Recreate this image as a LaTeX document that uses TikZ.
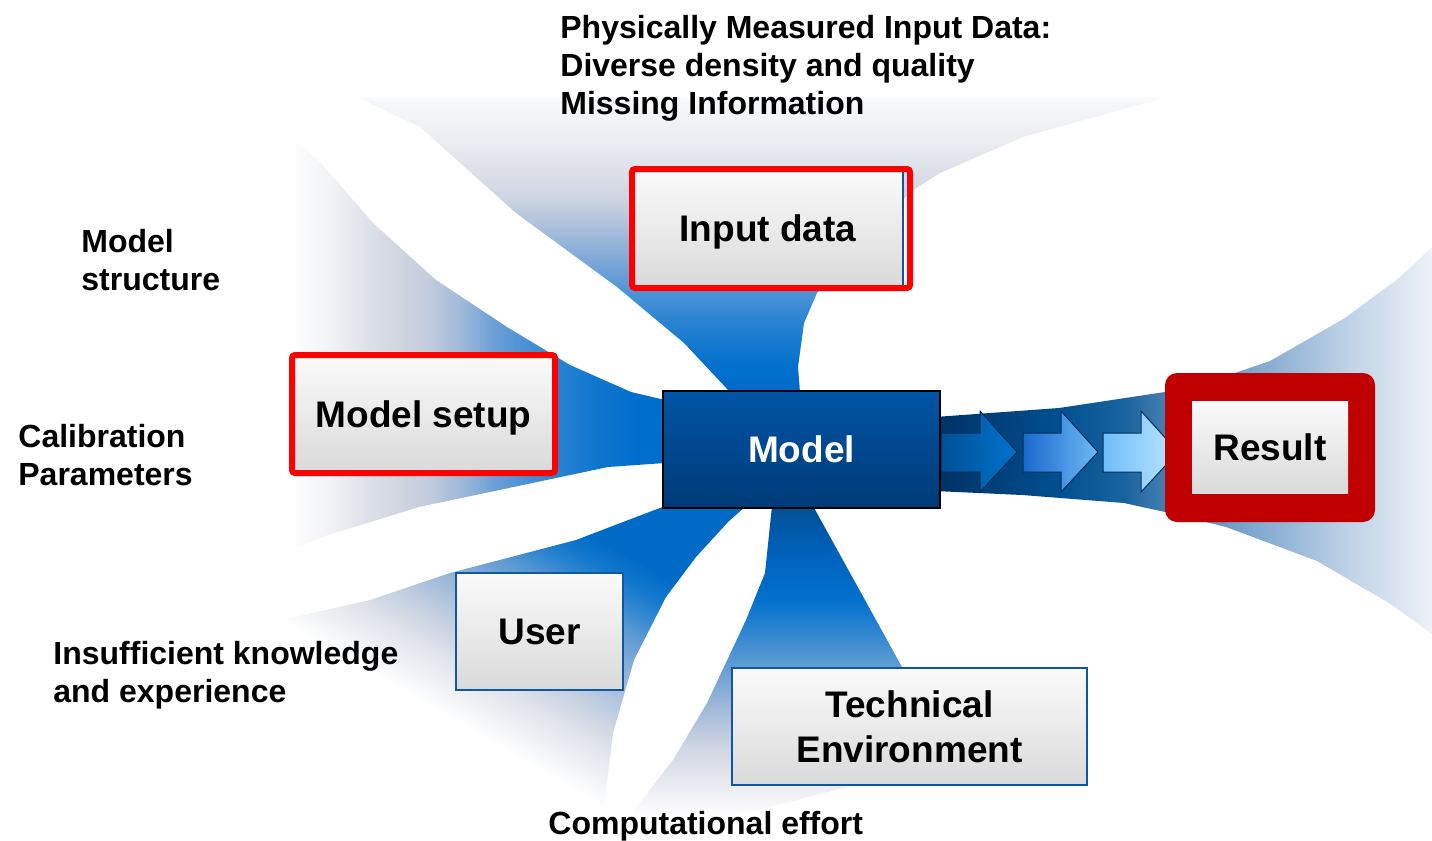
\documentclass[tikz,border=0pt]{standalone}
\usepackage{fontspec}
\setmainfont{Liberation Sans}

\definecolor{boxline}{RGB}{20,85,160}
\definecolor{boxtop}{RGB}{250,250,250}
\definecolor{boxbot}{RGB}{218,218,218}
\definecolor{framered}{RGB}{255,0,0}
\definecolor{resultred}{RGB}{192,0,0}
\definecolor{modeltop}{RGB}{0,85,165}
\definecolor{modelbot}{RGB}{0,58,120}
\definecolor{arrowline}{RGB}{0,45,95}
\definecolor{arrowAl}{RGB}{0,80,150}
\definecolor{arrowAr}{RGB}{0,115,205}
\definecolor{arrowBl}{RGB}{25,105,205}
\definecolor{arrowBr}{RGB}{110,185,245}
\definecolor{arrowCl}{RGB}{110,190,250}
\definecolor{arrowCr}{RGB}{190,228,255}

% fans fading out from the model
\pgfdeclareverticalshading{fanA}{100bp}{rgb(0bp)=(0,.412,.784); rgb(25bp)=(0,.412,.784);
  rgb(29.2bp)=(0,.439,.804); rgb(36.7bp)=(.157,.51,.824); rgb(42.3bp)=(.314,.588,.843);
  rgb(47.9bp)=(.51,.667,.843); rgb(53.6bp)=(.686,.765,.863); rgb(57.5bp)=(.804,.831,.882);
  rgb(62.1bp)=(.863,.875,.91); rgb(67.7bp)=(.922,.929,.949); rgb(74bp)=(.965,.969,.976);
  rgb(75.5bp)=(1,1,1); rgb(100bp)=(1,1,1)}
\pgfdeclarehorizontalshading{fanB}{100bp}{rgb(0bp)=(1,1,1); rgb(34.7bp)=(1,1,1);
  rgb(39bp)=(.949,.953,.965); rgb(42.2bp)=(.882,.894,.922); rgb(45.8bp)=(.824,.843,.886);
  rgb(49.4bp)=(.765,.804,.871); rgb(53bp)=(.627,.725,.843); rgb(56.5bp)=(.431,.627,.843);
  rgb(60.2bp)=(.275,.569,.831); rgb(63.7bp)=(.157,.51,.824); rgb(67.3bp)=(.059,.463,.812);
  rgb(72.3bp)=(0,.431,.804); rgb(100bp)=(0,.431,.804)}
\pgfdeclarehorizontalshading{fanC}{100bp}{rgb(0bp)=(1,1,1); rgb(41bp)=(1,1,1);
  rgb(44.5bp)=(.933,.941,.957); rgb(46bp)=(.91,.918,.941); rgb(47.6bp)=(.882,.894,.922);
  rgb(49.1bp)=(.843,.863,.902); rgb(52bp)=(.765,.812,.882); rgb(55.4bp)=(.647,.745,.863);
  rgb(57.1bp)=(.588,.706,.843); rgb(62.2bp)=(.373,.608,.831); rgb(65bp)=(.216,.537,.82);
  rgb(68bp)=(.078,.471,.804); rgb(71bp)=(0,.42,.78); rgb(100bp)=(0,.42,.78)}
\pgfdeclareverticalshading{fanD}{100bp}{rgb(0bp)=(1,1,1); rgb(25bp)=(1,1,1);
  rgb(27.4bp)=(.961,.961,.973); rgb(35.6bp)=(.824,.843,.894); rgb(43.7bp)=(.588,.706,.843);
  rgb(51.9bp)=(.275,.569,.824); rgb(60bp)=(0,.439,.8); rgb(66.5bp)=(0,.392,.745);
  rgb(74.7bp)=(0,.314,.588); rgb(100bp)=(0,.314,.588)}
\pgfdeclarehorizontalshading{fanE}{100bp}{rgb(0bp)=(0,.196,.392); rgb(25bp)=(0,.196,.392);
  rgb(37.1bp)=(0,.306,.557); rgb(44.2bp)=(.098,.392,.627); rgb(47.8bp)=(.255,.49,.686);
  rgb(56.5bp)=(.49,.647,.804); rgb(66.6bp)=(.745,.824,.902); rgb(75bp)=(.933,.949,.969);
  rgb(100bp)=(.933,.949,.969)}

\begin{document}
\begin{tikzpicture}[x=0.5pt, y=-0.5pt]
    \tikzstyle{note} = [anchor=north west, align=left, inner sep=0pt, font=\bfseries\fontsize{16}{19}\selectfont]
    \tikzstyle{greybox} = [draw=boxline, line width=1pt, top color=boxtop, bottom color=boxbot, inner sep=0pt, align=center, font=\bfseries\fontsize{18.5}{22.5}\selectfont]
    \tikzstyle{redframe} = [draw=framered, line width=3pt, rounded corners=1.5pt]
    \tikzstyle{flowarrow} = [draw=arrowline, line width=0.5pt]

    \useasboundingbox (0,0) rectangle (1432,841);

    % Fans
    \shade[shading=fanA] (730,392) -- (684,343) -- (617,287) -- (516,213) -- (420,127) -- (357,97)
        -- (1167,97) -- (1023,137) -- (940,173) -- (910,192) -- (817,293) -- (804,323) -- (798,367) -- (800,392) -- cycle;
    \shade[shading=fanB] (665,400) -- (631,392) -- (570,365) -- (507,327) -- (436,280) -- (373,223) -- (321,163)
        -- (260,110) -- (200,110) -- (200,590) -- (230,578) -- (322,537) -- (419,507) -- (608,467) -- (665,463) -- cycle;
    \shade[shading=fanC, shading angle=60] (665,506) -- (576,540) -- (450,573) -- (370,600) -- (250,627) -- (230,650)
        -- (420,730) -- (595,815) -- (604,807) -- (613,733) -- (634,660) -- (666,597) -- (696,557) -- (728,522) -- (746,506) -- cycle;
    \shade[shading=fanD] (772,506) -- (765,573) -- (746,620) -- (707,703) -- (673,760) -- (630,815)
        -- (740,815) -- (950,760) -- (902,667) -- (813,506) -- cycle;
    \shade[shading=fanE] (935,417) -- (1059,408) -- (1165,392) -- (1226,376) -- (1270,361) -- (1345,318) -- (1399,278) -- (1432,247)
        -- (1432,634) -- (1389,603) -- (1317,561) -- (1226,527) -- (1165,512) -- (1124,503) -- (1022,495) -- (935,491) -- cycle;

    % Arrows towards the result
    \draw[flowarrow, left color=arrowAl, right color=arrowAr] (941,433) -- (980,433) -- (980,411) -- (1017,452) -- (980,492) -- (980,472) -- (941,472) -- cycle;
    \draw[flowarrow, left color=arrowBl, right color=arrowBr] (1023,433) -- (1061,433) -- (1061,411) -- (1098,452) -- (1061,492) -- (1061,472) -- (1023,472) -- cycle;
    \draw[flowarrow, left color=arrowCl, right color=arrowCr] (1103,433) -- (1141,433) -- (1141,411) -- (1178,452) -- (1141,492) -- (1141,472) -- (1103,472) -- cycle;

    % Boxes
    \node[draw=black, line width=1pt, top color=modeltop, bottom color=modelbot, text=white, inner sep=0pt,
          font=\bfseries\fontsize{18.5}{22.5}\selectfont, minimum width=138.5pt, minimum height=58.5pt] (model) at (801.5,449.5) {Model};
    \node[greybox, text depth=0pt, minimum width=135pt, minimum height=58.5pt] (input) at (768,228.5) {Input data};
    \draw[redframe] (input.north west) rectangle ([xshift=3pt]input.south east);
    \node[greybox, text depth=0pt, minimum width=130.5pt, minimum height=58pt] (setup) at (423.5,414) {Model setup};
    \draw[redframe] (setup.north west) rectangle (setup.south east);
    \node[greybox, minimum width=83.5pt, minimum height=58.5pt] (user) at (539.5,631.5) {User};
    \node[greybox, minimum width=177.5pt, minimum height=58.5pt] (tech) at (909.5,726.5) {Technical\\Environment};
    \node[fill=resultred, rounded corners=6pt, minimum width=105pt, minimum height=74.5pt] (frame) at (1270,447.5) {};
    \node[greybox, draw=none, minimum width=78pt, minimum height=46pt] (result) at (frame.center) {Result};

    % Notes
    \node[note] (measured) at (560,15) {Physically Measured Input Data:\\Diverse density and quality\\Missing Information};
    \node[note] (structure) at (81,229) {Model\\structure};
    \node[note] (calib) at (18,424) {Calibration\\Parameters};
    \node[note] (knowledge) at (53,641) {Insufficient knowledge\\and experience};
    \node[note] (effort) at (548,811) {Computational effort};

\end{tikzpicture}
\end{document}
